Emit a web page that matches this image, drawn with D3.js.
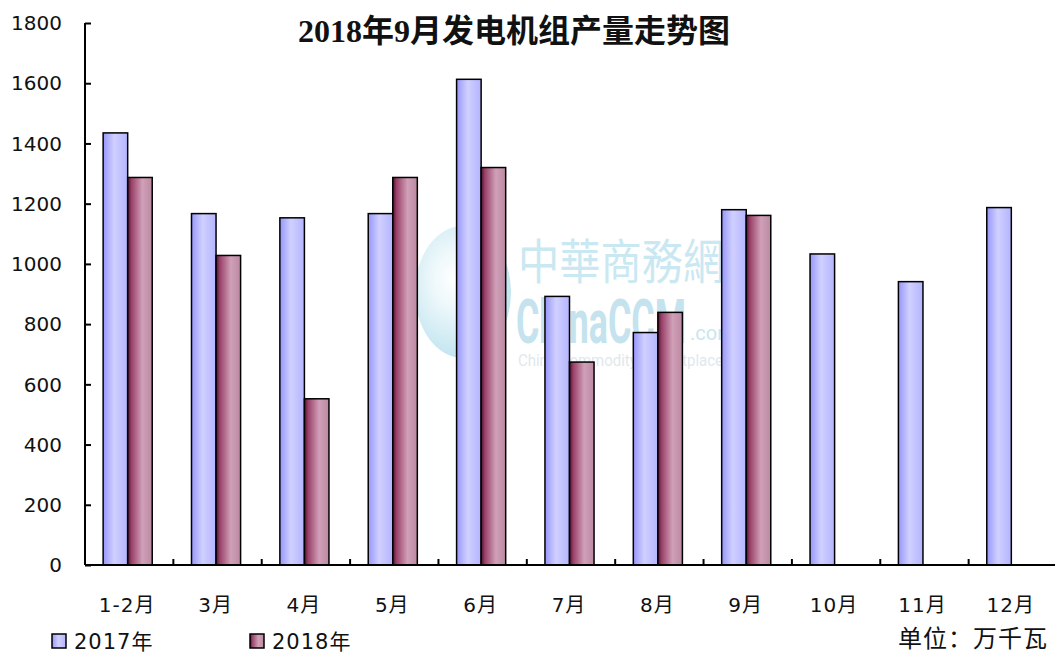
<!DOCTYPE html>
<html>
<head>
        <meta charset="utf-8">
        <script src="https://d3js.org/d3.v7.min.js"></script>
        <style>
            body { margin: 0; background: #fff; }
            text { fill: #111; }
        </style>
</head>
<body>
        <script type="text/javascript">

            // Data (万千瓦)
            var months = ["1-2月", "3月", "4月", "5月", "6月", "7月", "8月", "9月", "10月", "11月", "12月"];
            var series = ["2017年", "2018年"];
            var values2017 = [1435, 1167, 1153, 1167, 1613, 892, 772, 1180, 1033, 941, 1187];
            var values2018 = [1287, 1028, 552, 1287, 1320, 674, 839, 1161, null, null, null];
            var yTicks = [0, 200, 400, 600, 800, 1000, 1200, 1400, 1600, 1800];

            var title = "2018年9月发电机组产量走势图";
            var unit = "单位：万千瓦";

            var w = 1055, h = 653;
            var plotLeft = 85, plotRight = 1057, plotTop = 23, plotBottom = 565;

            var svg = d3.select("body")
                .append("svg")
                .attr("width", w)
                .attr("height", h);

            var defs = svg.append("defs");

            var g1 = defs.append("linearGradient").attr("id", "grad2017");
            g1.append("stop").attr("offset", "0%").attr("stop-color", "#9696fa");
            g1.append("stop").attr("offset", "45%").attr("stop-color", "#d0d0ff");
            g1.append("stop").attr("offset", "100%").attr("stop-color", "#b4b4ff");

            var g2 = defs.append("linearGradient").attr("id", "grad2018");
            g2.append("stop").attr("offset", "0%").attr("stop-color", "#4a1030");
            g2.append("stop").attr("offset", "15%").attr("stop-color", "#9a4068");
            g2.append("stop").attr("offset", "60%").attr("stop-color", "#d0a0b8");
            g2.append("stop").attr("offset", "100%").attr("stop-color", "#bb8aa2");

            var logo = defs.append("radialGradient").attr("id", "logoGrad")
                .attr("cx", "0.4").attr("cy", "0.4").attr("r", "0.6");
            logo.append("stop").attr("offset", "0%").attr("stop-color", "#ffffff");
            logo.append("stop").attr("offset", "35%").attr("stop-color", "#eef8fb");
            logo.append("stop").attr("offset", "100%").attr("stop-color", "#c2e5f0");

            var x0 = d3.scaleBand()
                .domain(months)
                .range([plotLeft, plotRight])
                .paddingInner(0)
                .paddingOuter(0);

            var x1 = d3.scaleBand()
                .domain(series)
                .range([0, x0.bandwidth()])
                .paddingInner(0)
                .paddingOuter(0.8);

            var y = d3.scaleLinear()
                .domain([0, 1800])
                .range([plotBottom, plotTop]);

            // watermark (behind the bars)
            var wm = svg.append("g");
            wm.append("ellipse")
                .attr("cx", 463).attr("cy", 292)
                .attr("rx", 48).attr("ry", 66)
                .attr("fill", "url(#logoGrad)");
            wm.append("text")
                .attr("transform", "translate(518,279) scale(0.86,1)")
                .attr("font-family", "Noto Sans CJK TC")
                .attr("font-size", 48)
                .style("fill", "#cae8f2")
                .text("中華商務網");
            wm.append("text")
                .attr("x", 516).attr("y", 343)
                .attr("font-family", "Roboto")
                .attr("font-weight", "bold")
                .attr("font-size", 62)
                .attr("textLength", 170)
                .attr("lengthAdjust", "spacingAndGlyphs")
                .style("fill", "#c4e3ee")
                .text("ChinaCCM");
            wm.append("text")
                .attr("x", 690).attr("y", 340)
                .attr("font-family", "Roboto")
                .attr("font-size", 20)
                .style("fill", "#c9e6f0")
                .text(".com");
            wm.append("text")
                .attr("x", 518).attr("y", 366)
                .attr("font-family", "Roboto")
                .attr("font-size", 17)
                .attr("textLength", 205)
                .attr("lengthAdjust", "spacingAndGlyphs")
                .style("fill", "#dfe8ee")
                .text("China Commodity Marketplace");

            // bars
            var groups = svg.append("g")
                .selectAll("g")
                .data(months)
                .enter().append("g")
                .attr("transform", function(d) { return "translate(" + x0(d) + ",0)"; });

            groups.selectAll("rect")
                .data(function(d, i) {
                    return [
                        {key: series[0], value: values2017[i]},
                        {key: series[1], value: values2018[i]}
                    ].filter(function(e) { return e.value != null; });
                })
                .enter().append("rect")
                .attr("x", function(d) { return x1(d.key) - 1.5; })
                .attr("y", function(d) { return y(d.value); })
                .attr("width", x1.bandwidth())
                .attr("height", function(d) { return plotBottom - y(d.value); })
                .attr("fill", function(d) { return d.key == series[0] ? "url(#grad2017)" : "url(#grad2018)"; })
                .attr("stroke", "#000")
                .attr("stroke-width", 1.5);

            // y axis
            var yAxis = svg.append("g")
                .attr("transform", "translate(" + plotLeft + ",0)")
                .call(d3.axisRight(y).tickValues(yTicks).tickSize(6).tickFormat(""));
            yAxis.select(".domain").attr("stroke", "#000").attr("stroke-width", 2)
                .attr("d", "M0," + plotTop + "V" + plotBottom);
            yAxis.selectAll(".tick line").attr("stroke", "#000").attr("stroke-width", 2);

            svg.append("g")
                .selectAll("text")
                .data(yTicks)
                .enter().append("text")
                .attr("x", 62)
                .attr("y", function(d) { return y(d); })
                .attr("dy", "0.36em")
                .attr("text-anchor", "end")
                .attr("font-family", "DejaVu Sans")
                .attr("font-size", 20)
                .text(function(d) { return d; });

            // x axis
            svg.append("line")
                .attr("x1", plotLeft).attr("x2", w)
                .attr("y1", plotBottom).attr("y2", plotBottom)
                .attr("stroke", "#000").attr("stroke-width", 2);

            svg.append("g")
                .selectAll("line")
                .data(months.slice(1))
                .enter().append("line")
                .attr("x1", function(d) { return x0(d); })
                .attr("x2", function(d) { return x0(d); })
                .attr("y1", plotBottom)
                .attr("y2", plotBottom - 6)
                .attr("stroke", "#000").attr("stroke-width", 2);

            svg.append("g")
                .selectAll("text")
                .data(months)
                .enter().append("text")
                .attr("x", function(d) { return x0(d) + x0.bandwidth() / 2 - 2; })
                .attr("y", 612)
                .attr("text-anchor", "middle")
                .attr("font-family", "DejaVu Sans, Noto Sans CJK SC")
                .attr("font-size", 20)
                .attr("letter-spacing", 1)
                .text(function(d) { return d; });

            // title
            svg.append("text")
                .attr("x", 514)
                .attr("y", 42)
                .attr("text-anchor", "middle")
                .attr("font-family", "Liberation Serif, Noto Sans CJK SC")
                .attr("font-weight", "bold")
                .attr("font-size", 32)
                .text(title);

            // legend
            var legendX = [52, 250];
            var legendFill = ["url(#grad2017)", "url(#grad2018)"];
            var legend = svg.append("g")
                .selectAll("g")
                .data(series)
                .enter().append("g")
                .attr("transform", function(d, i) { return "translate(" + legendX[i] + ",634)"; });
            legend.append("rect")
                .attr("width", 14).attr("height", 14)
                .attr("fill", function(d, i) { return legendFill[i]; })
                .attr("stroke", "#000").attr("stroke-width", 1.5);
            legend.append("text")
                .attr("x", 22)
                .attr("y", 15)
                .attr("font-family", "DejaVu Sans, Noto Sans CJK SC")
                .attr("font-size", 21)
                .attr("letter-spacing", 1)
                .text(function(d) { return d; });

            svg.append("text")
                .attr("x", 1048)
                .attr("y", 647)
                .attr("text-anchor", "end")
                .attr("font-family", "Noto Sans CJK SC")
                .attr("font-size", 24)
                .attr("letter-spacing", 1)
                .text(unit);

        </script>
</body>
</html>
